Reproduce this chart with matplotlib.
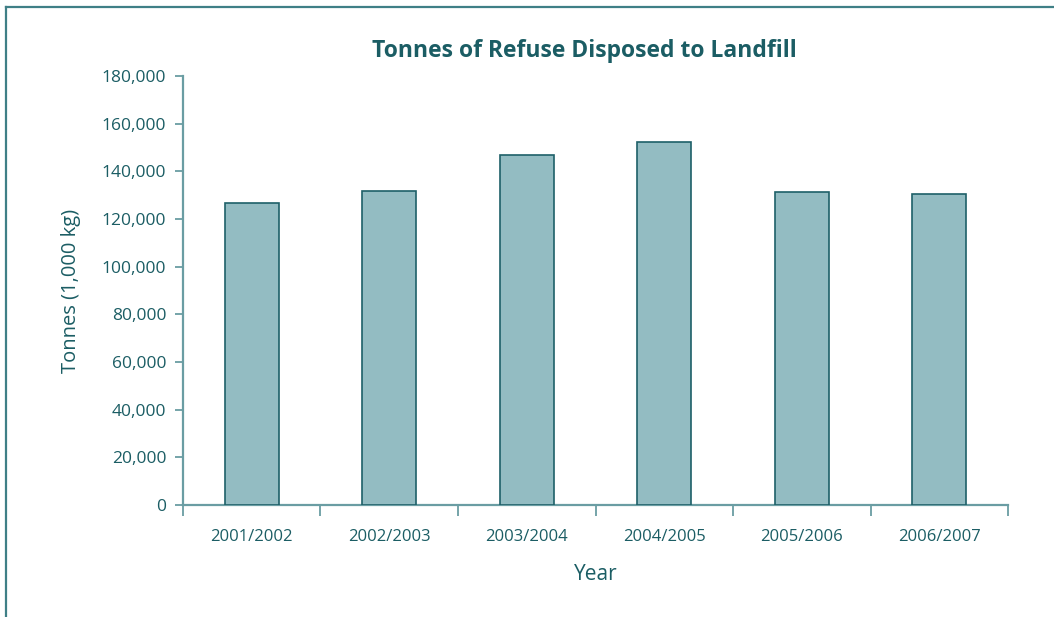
import numpy as np
import matplotlib.pyplot as plt
from matplotlib.lines import Line2D
from matplotlib.ticker import FuncFormatter, FixedLocator

# Refuse sent to landfill per financial year
years = ["2001/2002", "2002/2003", "2003/2004", "2004/2005", "2005/2006", "2006/2007"]
tonnes = [126700, 131600, 146900, 152200, 131400, 130300]

TEXT = "#1b5d64"
AXIS = "#6a9da3"
BAR_FILL = "#93bcc2"
BAR_EDGE = "#1e6068"

plt.rcParams['font.family'] = ['Open Sans', 'DejaVu Sans']

fig = plt.figure(figsize=(10.54, 6.17), dpi=100)
ax = fig.add_axes([0.1736, 0.1815, 0.7828, 0.6953])

x = np.arange(len(years))
ax.bar(x, tonnes, width=0.39, color=BAR_FILL, edgecolor=BAR_EDGE, linewidth=1.2, zorder=3)

ax.set_xlim(-0.5, len(years) - 0.5)
ax.set_ylim(0, 180000)
ax.set_yticks(np.arange(0, 180001, 20000))
ax.yaxis.set_major_formatter(FuncFormatter(lambda v, p: f"{int(v):,}"))

# category labels centred, tick marks at the category boundaries
ax.set_xticks(x)
ax.set_xticklabels(years)
ax.xaxis.set_minor_locator(FixedLocator(np.arange(-0.5, len(years), 1.0)))
ax.tick_params(axis='x', which='major', length=0, pad=17, labelsize=12, labelcolor=TEXT)
ax.tick_params(axis='x', which='minor', length=8, width=1.3, color=AXIS, direction='out')
ax.tick_params(axis='y', length=6, width=1.3, color=AXIS, labelsize=12.5, labelcolor=TEXT, pad=6)

for side in ('top', 'right'):
    ax.spines[side].set_visible(False)
for side in ('left', 'bottom'):
    ax.spines[side].set_color(AXIS)
    ax.spines[side].set_linewidth(1.6)

ax.set_title("Tonnes of Refuse Disposed to Landfill", color=TEXT, fontsize=16.5,
             fontweight='bold', x=0.486, pad=14)
ax.set_xlabel("Year", color=TEXT, fontsize=15, labelpad=14)
ax.set_ylabel("Tonnes (1,000 kg)", color=TEXT, fontsize=14.5, labelpad=15)

# outer frame running along the top and left edges
fig.add_artist(Line2D([6 / 1054, 1.0], [1 - 7 / 617, 1 - 7 / 617],
                      transform=fig.transFigure, color="#3f7f86", linewidth=1.6))
fig.add_artist(Line2D([6 / 1054, 6 / 1054], [0.0, 1 - 7 / 617],
                      transform=fig.transFigure, color="#3f7f86", linewidth=1.6))

fig.savefig("out.png", dpi=100)
